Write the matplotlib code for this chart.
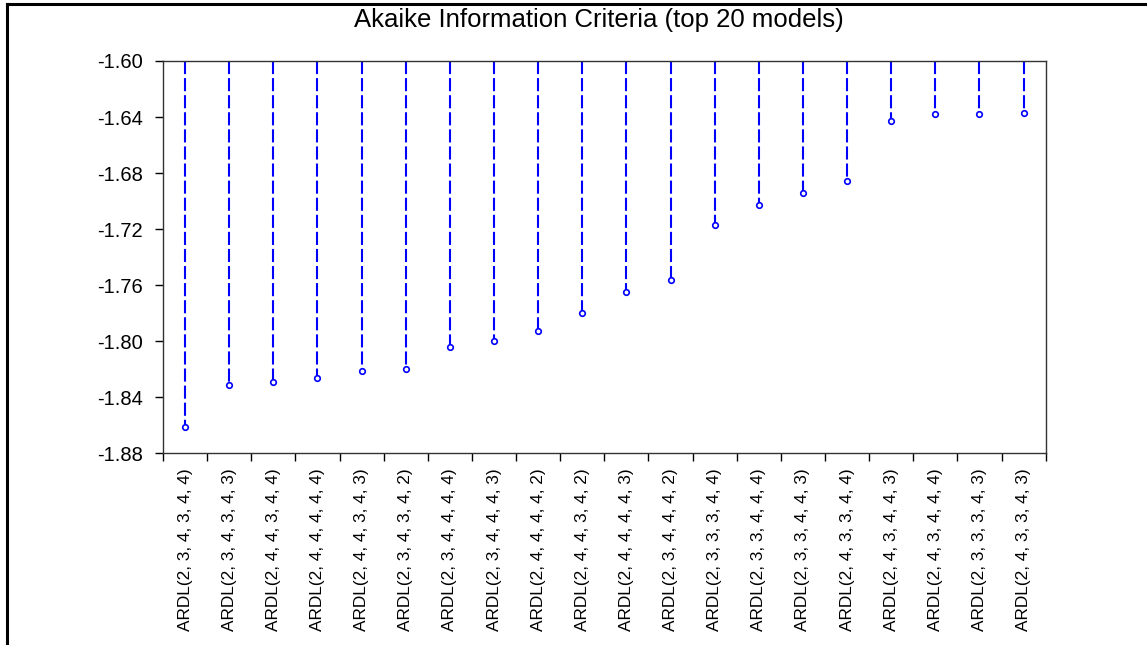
"""Akaike Information Criteria for the top 20 ARDL models (stem chart)."""

import matplotlib
matplotlib.use("Agg")
import matplotlib.pyplot as plt
from matplotlib.lines import Line2D
from matplotlib.ticker import FixedLocator, NullFormatter

models = [
    "ARDL(2, 3, 4, 3, 4, 4)", "ARDL(2, 3, 4, 3, 4, 3)", "ARDL(2, 4, 4, 3, 4, 4)",
    "ARDL(2, 4, 4, 4, 4, 4)", "ARDL(2, 4, 4, 3, 4, 3)", "ARDL(2, 3, 4, 3, 4, 2)",
    "ARDL(2, 3, 4, 4, 4, 4)", "ARDL(2, 3, 4, 4, 4, 3)", "ARDL(2, 4, 4, 4, 4, 2)",
    "ARDL(2, 4, 4, 3, 4, 2)", "ARDL(2, 4, 4, 4, 4, 3)", "ARDL(2, 3, 4, 4, 4, 2)",
    "ARDL(2, 3, 3, 3, 4, 4)", "ARDL(2, 3, 3, 4, 4, 4)", "ARDL(2, 3, 3, 4, 4, 3)",
    "ARDL(2, 4, 3, 3, 4, 4)", "ARDL(2, 4, 3, 4, 4, 3)", "ARDL(2, 4, 3, 4, 4, 4)",
    "ARDL(2, 3, 3, 3, 4, 3)", "ARDL(2, 4, 3, 3, 4, 3)",
]
aic = [
    -1.861, -1.831, -1.829, -1.826, -1.821, -1.820, -1.804, -1.800, -1.793, -1.780,
    -1.765, -1.756, -1.717, -1.703, -1.694, -1.686, -1.643, -1.638, -1.638, -1.637,
]
y_ticks = [-1.88, -1.84, -1.80, -1.76, -1.72, -1.68, -1.64, -1.60]

BLUE = "#0000FF"
W, H = 1147, 645

plt.rcParams["font.family"] = ["Liberation Sans", "DejaVu Sans"]

fig = plt.figure(figsize=(W / 100, H / 100), dpi=100)
ax = fig.add_axes([163 / W, 1 - 453.3 / H, (1045.7 - 163) / W, (453.3 - 61) / H])

ax.set_xlim(-0.5, len(models) - 0.5)
ax.set_ylim(y_ticks[0], y_ticks[-1])
top = ax.get_ylim()[1]

for i, v in enumerate(aic):
    ax.plot([i, i], [top, v], color=BLUE, lw=1.5, ls=(0, (6.3, 1.9)),
            solid_capstyle="butt", dash_capstyle="butt", clip_on=False)
ax.plot(range(len(aic)), aic, ls="none", marker="o", ms=4, mfc="white",
        mec=BLUE, mew=1.2, zorder=3)

# y axis
ax.set_yticks(y_ticks)
ax.set_yticklabels([f"{t:.2f}" for t in y_ticks])
ax.tick_params(axis="y", direction="out", length=5.5, width=1, pad=9,
               labelsize=14.5, right=False)

# x axis: labels at centres, ticks at the boundaries
ax.set_xticks(range(len(models)))
ax.set_xticklabels(models, rotation=90, fontsize=12.4)
ax.tick_params(axis="x", which="major", length=0, pad=10.5, top=False)
ax.xaxis.set_minor_locator(FixedLocator([i - 0.5 for i in range(len(models) + 1)]))
ax.xaxis.set_minor_formatter(NullFormatter())
ax.tick_params(axis="x", which="minor", direction="out", length=5.5, width=1,
               top=False)

for s in ax.spines.values():
    s.set_linewidth(1.0)
    s.set_color("#333333")

fig.text(599 / W, 1 - 27 / H,
         "Akaike Information Criteria (top 20 models)",
         ha="center", va="baseline", fontsize=18.5)

# outer frame (left and top edges visible)
fig.add_artist(Line2D([7 / W, 7 / W], [0, 1 - 4 / H], color="black", lw=2.2))
fig.add_artist(Line2D([7 / W, 1], [1 - 4 / H, 1 - 4 / H], color="black", lw=2.2))

fig.savefig("out.png", dpi=100)
